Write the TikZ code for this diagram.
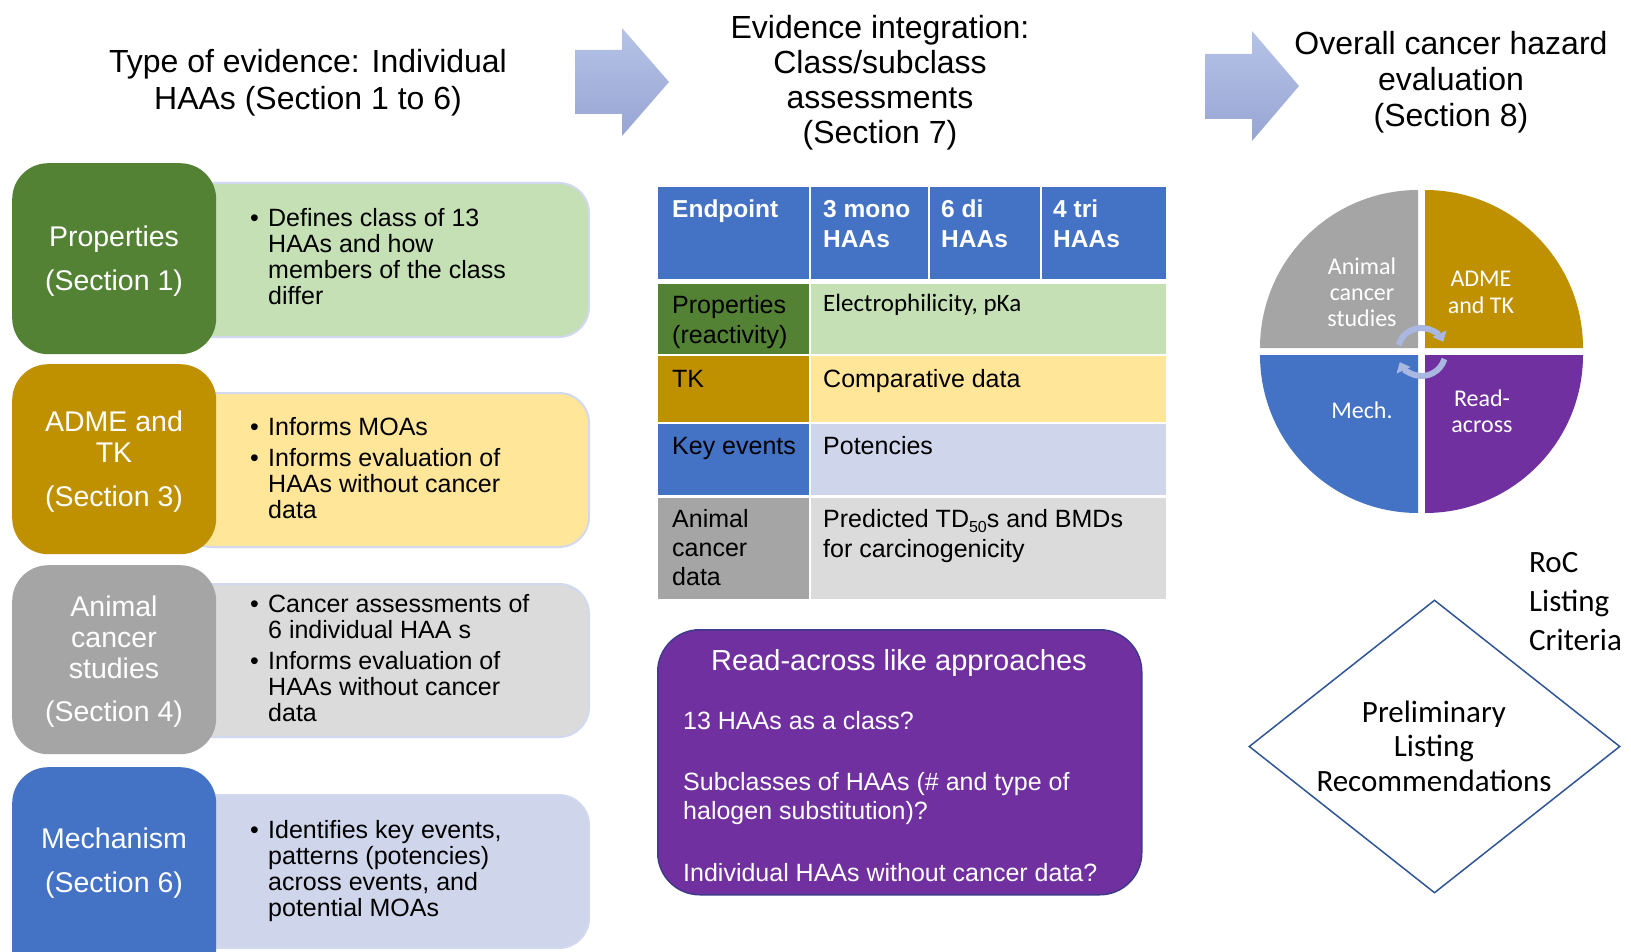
\documentclass[tikz,border=0pt]{standalone}
\usepackage{fontspec}
\setmainfont{Liberation Sans}
\newfontfamily\carl{Carlito}
\usetikzlibrary{shapes.geometric,arrows.meta}
\definecolor{cgreen}{HTML}{548235}
\definecolor{lgreen}{HTML}{C5E0B4}
\definecolor{cgold}{HTML}{BF9000}
\definecolor{lyellow}{HTML}{FFE699}
\definecolor{cgrey}{HTML}{A5A5A5}
\definecolor{lgrey}{HTML}{DBDBDB}
\definecolor{cblue}{HTML}{4472C4}
\definecolor{lblue}{HTML}{CFD5EA}
\definecolor{cpurple}{HTML}{7030A0}
\definecolor{cline}{HTML}{D2D9EE}
\definecolor{dblue}{HTML}{2F5597}
\definecolor{pline}{HTML}{3E3A8C}
\definecolor{arrT}{HTML}{B6C3E7}
\definecolor{arrB}{HTML}{97A5D3}
\definecolor{cyc}{HTML}{A9B7E1}
\newcommand{\LinesC}[1]{\vtop{\halign{\hfil##\hfil\cr#1\crcr}}}
\newcommand{\LinesL}[1]{\vtop{\halign{##\hfil\cr#1\crcr}}}
\newcommand{\Bul}[1]{\vtop{\halign{\hbox to 18pt{##\hfil}&##\hfil\cr#1\crcr}}}
\tikzset{
  lightbox/.style={rectangle, rounded corners=30, draw=cline, line width=2pt, anchor=north west, inner sep=0, minimum width=408},
  darkbox/.style={rectangle, rounded corners=36, anchor=north west, inner sep=0, minimum width=204},
  darktext/.style={text=white, font=\fontsize{28.5}{31}\selectfont, anchor=base, inner sep=0},
  bultext/.style={text=black, font=\fontsize{25}{26}\selectfont, anchor=base west, inner sep=0},
  titletext/.style={text=black, anchor=base, inner sep=0},
  headtext/.style={text=white, font=\bfseries\fontsize{24.5}{30}\selectfont, anchor=base west, inner sep=0},
  celltext/.style={text=black, font=\fontsize{25}{30}\selectfont, anchor=base west, inner sep=0},
  pietext/.style={text=white, font=\carl\fontsize{24}{26.5}\selectfont, anchor=base, inner sep=0},
  purpletext/.style={text=white, font=\fontsize{25}{29}\selectfont, anchor=base west, inner sep=0},
  bigarrow/.style={top color=arrT, bottom color=arrB},
  cycarrow/.style={draw=cyc, line width=6pt, -{Triangle[length=9pt,width=15pt]}},
}
\begin{document}
\begin{tikzpicture}[x=1pt,y=-1pt]
\useasboundingbox (0,0) rectangle (1631,952);
\clip (0,0) rectangle (1631,952);
\fill[white] (0,0) rectangle (1631,952);

% ---------- titles ----------
\node[titletext, font=\fontsize{32}{37}\selectfont] (t1) at (308,73) {\LinesC{Type of evidence: Individual\cr HAAs (Section 1 to 6)}};
\node[titletext, font=\fontsize{32}{35}\selectfont] (t2) at (880,39) {\LinesC{Evidence integration:\cr Class/subclass\cr assessments\cr (Section 7)}};
\node[titletext, font=\fontsize{32}{36}\selectfont] (t3) at (1451,55) {\LinesC{Overall cancer hazard\cr evaluation\cr (Section 8)}};

% ---------- big arrows ----------
\shade[bigarrow] (575,50) -- (622,50) -- (622,28) -- (669,82) -- (622,136) -- (622,114) -- (575,114) -- cycle;
\shade[bigarrow] (1205,54) -- (1252,54) -- (1252,31) -- (1299,86) -- (1252,141) -- (1252,119) -- (1205,119) -- cycle;

% ---------- left column ----------
\node[lightbox, fill=lgreen, minimum height=154] (l1) at (180,182) {};
\node[darkbox, fill=cgreen, minimum height=191] (d1) at (12,163) {};
\node[darktext] (d1t) at (114,247) {\LinesC{Properties\cr\noalign{\vskip13pt}(Section 1)}};
\node[bultext] (l1t) at (250,227) {\Bul{•&Defines class of 13\cr&HAAs and how\cr&members of the class\cr&differ}};

\node[lightbox, fill=lyellow, minimum height=154] (l2) at (180,392) {};
\node[darkbox, fill=cgold, minimum height=190] (d2) at (12,364) {};
\node[darktext] (d2t) at (114,431) {\LinesC{ADME and\cr TK\cr\noalign{\vskip13pt}(Section 3)}};
\node[bultext] (l2t) at (250,435) {\Bul{•&Informs MOAs\cr\noalign{\vskip5pt}•&Informs evaluation of\cr&HAAs without cancer\cr&data}};

\node[lightbox, fill=lgrey, minimum height=153] (l3) at (180,583) {};
\node[darkbox, fill=cgrey, minimum height=189] (d3) at (12,565) {};
\node[darktext] (d3t) at (114,616) {\LinesC{Animal\cr cancer\cr studies\cr\noalign{\vskip12pt}(Section 4)}};
\node[bultext] (l3t) at (250,612) {\Bul{•&Cancer assessments of\cr&6 individual HAA s\cr\noalign{\vskip5pt}•&Informs evaluation of\cr&HAAs without cancer\cr&data}};

\node[lightbox, fill=lblue, minimum height=153] (l4) at (180,794) {};
\node[darkbox, fill=cblue, minimum height=230] (d4) at (12,767) {};
\node[darktext] (d4t) at (114,848) {\LinesC{Mechanism\cr\noalign{\vskip13pt}(Section 6)}};
\node[bultext] (l4t) at (250,838) {\Bul{•&Identifies key events,\cr&patterns (potencies)\cr&across events, and\cr&potential MOAs}};

% ---------- table ----------
\fill[cblue] (658,187) rectangle (809,279);
\fill[cblue] (811,187) rectangle (928,279);
\fill[cblue] (930,187) rectangle (1040,279);
\fill[cblue] (1042,187) rectangle (1166,279);
\fill[cgreen] (658,284) rectangle (809,354);
\fill[lgreen] (811,284) rectangle (1166,354);
\fill[cgold] (658,356) rectangle (809,422);
\fill[lyellow] (811,356) rectangle (1166,422);
\fill[cblue] (658,424) rectangle (809,495);
\fill[lblue] (811,424) rectangle (1166,495);
\fill[cgrey] (658,498) rectangle (809,599);
\fill[lgrey] (811,498) rectangle (1166,599);

\node[headtext] (h1) at (672,218) {Endpoint};
\node[headtext] (h2) at (823,218) {\LinesL{3 mono\cr HAAs}};
\node[headtext] (h3) at (941,218) {\LinesL{6 di\cr HAAs}};
\node[headtext] (h4) at (1053,218) {\LinesL{4 tri\cr HAAs}};
\node[celltext] (r1a) at (672,313) {\LinesL{Properties\cr (reactivity)}};
\node[celltext, font=\carl\fontsize{25}{30}\selectfont] (r1b) at (823,311) {Electrophilicity, pKa};
\node[celltext] (r2a) at (672,387) {TK};
\node[celltext] (r2b) at (823,387) {Comparative data};
\node[celltext] (r3a) at (672,454) {Key events};
\node[celltext] (r3b) at (823,454) {Potencies};
\node[celltext, font=\fontsize{25}{29}\selectfont] (r4a) at (672,527) {\LinesL{Animal\cr cancer\cr data}};
\node[celltext] (r4b) at (823,527) {\LinesL{Predicted TD\raisebox{-5pt}{\fontsize{16}{16}\selectfont 50}s and BMDs\cr for carcinogenicity}};

% ---------- purple box ----------
\node[rectangle, rounded corners=42, fill=cpurple, draw=pline, line width=1.5pt, anchor=north west, inner sep=0, minimum width=484, minimum height=265] (rb) at (657,629) {};
\node[titletext, text=white, font=\fontsize{29}{30}\selectfont] (rbt) at (899,670) {Read-across like approaches};
\node[purpletext] (rb1) at (683,729) {13 HAAs as a class?};
\node[purpletext] (rb2) at (683,790) {\LinesL{Subclasses of HAAs (\# and type of\cr halogen substitution)?}};
\node[purpletext] (rb3) at (683,881) {Individual HAAs without cancer data?};

% ---------- pie ----------
\fill[cgrey] (1418,348) -- (1260,348) arc[start angle=180, end angle=270, radius=158] -- cycle;
\fill[cgold] (1425,348) -- (1425,190) arc[start angle=270, end angle=360, radius=158] -- cycle;
\fill[cpurple] (1425,355) -- (1583,355) arc[start angle=0, end angle=90, radius=158] -- cycle;
\fill[cblue] (1418,355) -- (1418,513) arc[start angle=90, end angle=180, radius=158] -- cycle;
\coordinate (pc) at (1421.5,352);
\draw[cycarrow] ([shift={(197:24)}]pc) arc[start angle=197, end angle=335, radius=24];
\draw[cycarrow] ([shift={(17:24)}]pc) arc[start angle=17, end angle=155, radius=24];
\node[pietext] (pa) at (1362,274) {\LinesC{Animal\cr cancer\cr studies}};
\node[pietext] (pb) at (1481,287) {\LinesC{ADME\cr and TK}};
\node[pietext] (pcm) at (1362,418) {Mech.};
\node[pietext] (pd) at (1482,406) {\LinesC{Read-\cr across}};

% ---------- diamond ----------
\node[diamond, draw=dblue, line width=1.5pt, inner sep=0, minimum width=371, minimum height=293] (dia) at (1434.5,746.5) {};
\node[titletext, font=\carl\fontsize{31}{34.5}\selectfont] (diat) at (1434,722) {\LinesC{Preliminary\cr Listing\cr Recommendations}};
\node[anchor=base west, inner sep=0, font=\carl\fontsize{31}{39}\selectfont] (roc) at (1529,572) {\LinesL{RoC\cr Listing\cr Criteria}};
\end{tikzpicture}
\end{document}
